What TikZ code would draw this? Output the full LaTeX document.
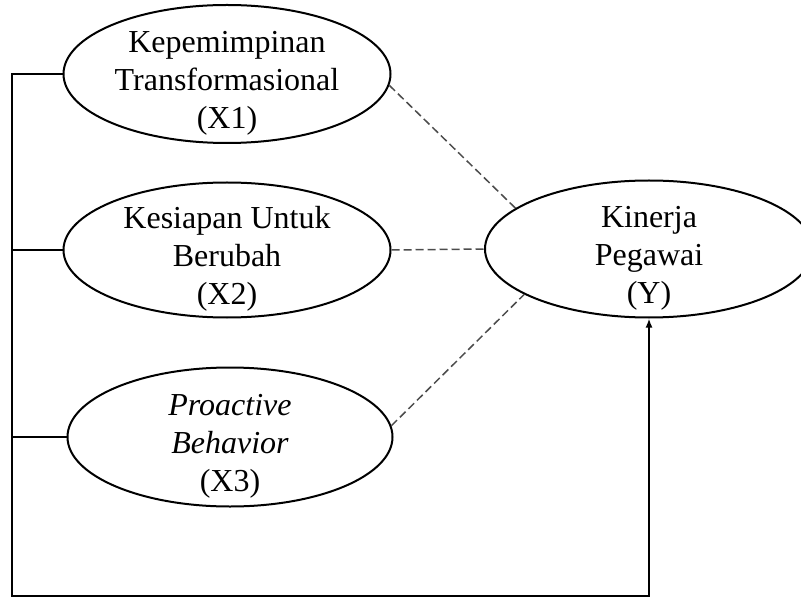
\documentclass[tikz,border=0pt]{standalone}
\usepackage{fontspec}
\setmainfont{Liberation Serif}
\usetikzlibrary{positioning, arrows.meta, shapes}

\begin{document}
\begin{tikzpicture}[
        x=0.5pt, y=-0.5pt,
        var/.style={draw, ellipse, line width=1pt, inner sep=0pt},
        teks/.style={align=center, inner sep=0pt, yshift=-4.5pt, font=\fontsize{16pt}{19pt}\selectfont},
        garis/.style={draw, line width=1pt},
        putus/.style={draw, line width=0.75pt, black!70, dash pattern=on 4pt off 2pt},
        panah/.style={garis, -{Latex[length=4.5pt, width=3.5pt]}}
    ]
    \useasboundingbox (0,0) rectangle (801,598);
    \clip (0,0) rectangle (801,598);

    % Variabel
    \node (x1) [var, minimum width=163.5pt, minimum height=69pt] at (227,74) {};
    \node (x2) [var, minimum width=163.5pt, minimum height=67.5pt] at (227,250) {};
    \node (x3) [var, minimum width=162.5pt, minimum height=69.5pt] at (230,437) {};
    \node (y) [var, minimum width=164pt, minimum height=68.5pt] at (649,249) {};
    \node (x1t) [teks] at (x1) {Kepemimpinan\\Transformasional\\(X1)};
    \node (x2t) [teks] at (x2) {Kesiapan Untuk\\Berubah\\(X2)};
    \node (x3t) [teks] at (x3) {\textit{Proactive}\\\textit{Behavior}\\(X3)};
    \node (yt) [teks] at (y) {Kinerja\\Pegawai\\(Y)};
    \coordinate (kiri) at (12,596);

    % Hubungan
    \draw[putus] (x1.-4) -- (y.163);
    \draw[putus] (x2.east) -- (y.west);
    \draw[putus] (x3.4) -- (y.-160);
    \draw[panah] (x1.west) -| (kiri) -| (y.south);
    \draw[garis] (x2.west) -- (x2.west -| kiri);
    \draw[garis] (x3.west) -- (x3.west -| kiri);

\end{tikzpicture}
\end{document}
